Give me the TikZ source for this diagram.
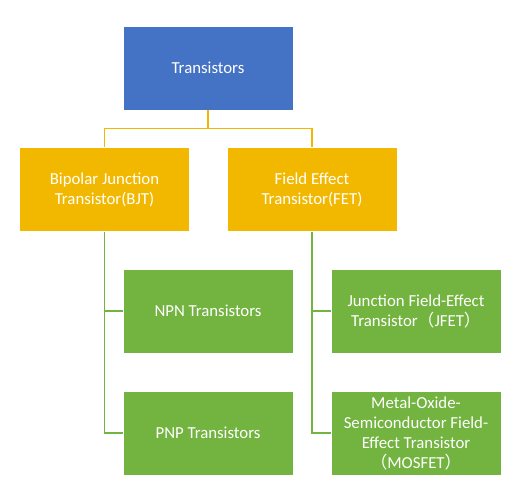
\documentclass[tikz,border=0pt]{standalone}
\usepackage{fontspec}
\usetikzlibrary{calc}
\setmainfont{Carlito}
\newfontfamily\cjk{Noto Sans CJK SC}
\definecolor{cblue}{HTML}{4472C4}
\definecolor{cgold}{HTML}{F2B800}
\definecolor{cgreen}{HTML}{72B43F}
\newcommand{\lp}{{\cjk （}}
\newcommand{\rp}{{\cjk ）}}
\begin{document}
\begin{tikzpicture}[x=1pt,y=-1pt,
  box/.style={draw=white, line width=0.6pt, minimum width=170pt, minimum height=84pt,
    text=white, align=center, inner sep=2pt, font=\fontsize{16.8}{20}\selectfont},
  bluebox/.style={box, fill=cblue},
  goldbox/.style={box, fill=cgold},
  greenbox/.style={box, fill=cgreen},
  goldline/.style={draw=cgold, line width=1.3pt},
  greenline/.style={draw=cgreen, line width=1.3pt}]
\useasboundingbox (0,0) rectangle (512,503);
\node[bluebox] (top) at (208,68) {Transistors};
\node[goldbox] (bjt) at (104.5,189.5) {Bipolar Junction\\Transistor(BJT)};
\node[goldbox] (fet) at (312,189.5) {Field Effect\\Transistor(FET)};
\node[greenbox] (npn) at (208,311) {NPN Transistors};
\node[greenbox] (pnp) at (208,433) {PNP Transistors};
\node[greenbox] (jfet) at (416,311) {Junction Field-Effect\\Transistor\lp JFET\rp};
\node[greenbox] (mos) at (416,433) {Metal-Oxide-\\Semiconductor Field-\\Effect Transistor\\\lp MOSFET\rp};
\coordinate (hub) at ($(top.south)+(0,18)$);
\draw[goldline] (top.south) -- (hub) -| (bjt.north);
\draw[goldline] (hub) -| (fet.north);
\draw[greenline] (bjt.south) -- (bjt.south |- pnp.west) -- (pnp.west);
\draw[greenline] (bjt.south |- npn.west) -- (npn.west);
\draw[greenline] (fet.south) -- (fet.south |- mos.west) -- (mos.west);
\draw[greenline] (fet.south |- jfet.west) -- (jfet.west);
\end{tikzpicture}
\end{document}
